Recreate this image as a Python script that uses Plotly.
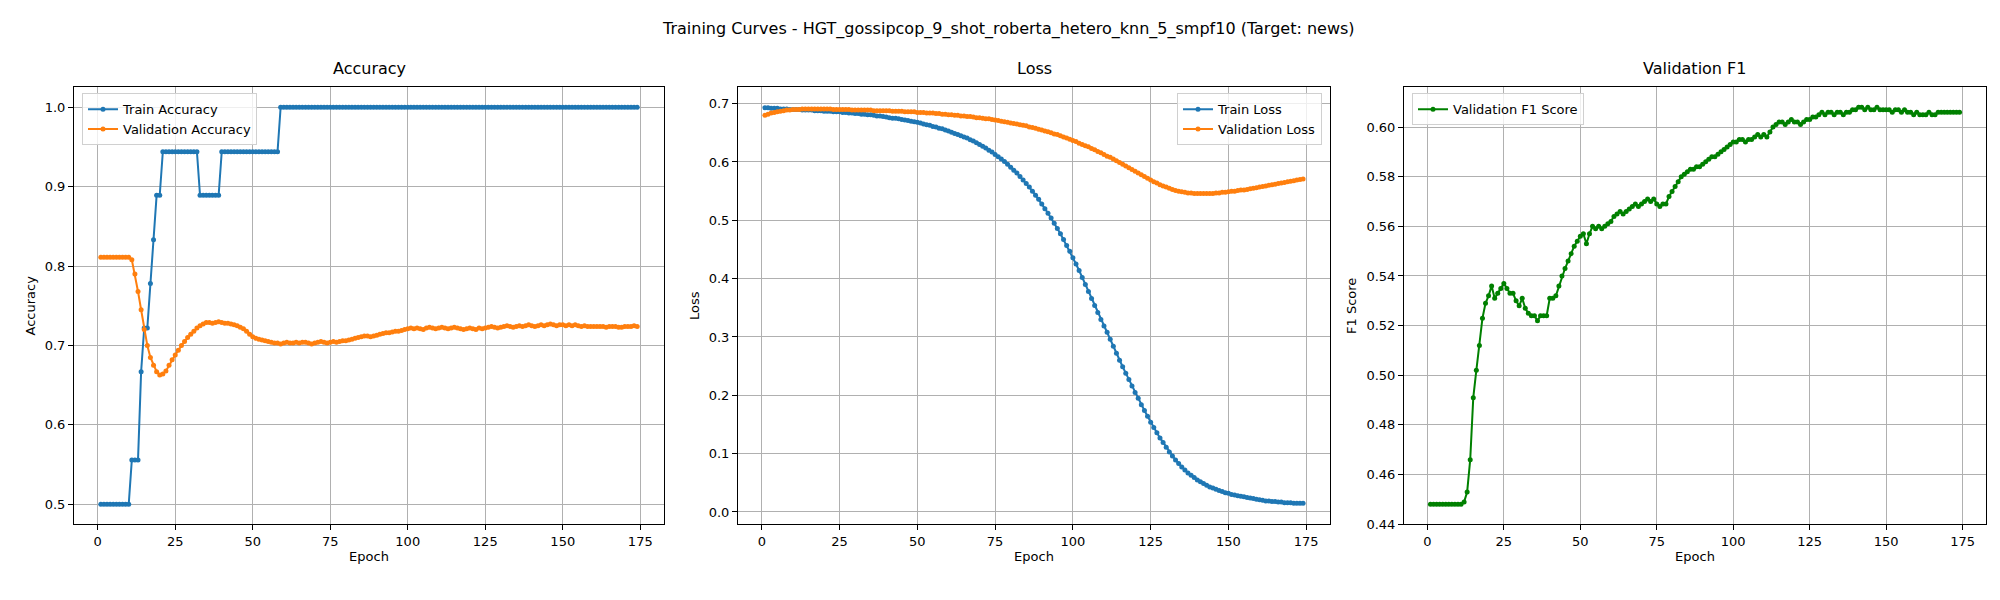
import plotly.graph_objects as go
from plotly.subplots import make_subplots

epochs = list(range(1, 175))

train_acc = ([0.5]*10 + [0.556]*3 + [0.667] + [0.722]*2 + [0.778] + [0.833] + [0.889]*2
             + [0.944]*12 + [0.889]*7 + [0.944]*19 + [1.0]*116)

val_acc = ([.811]*10 +
    [.808,.790,.768,.745,.720,.700,.685,.675,.667,.663,
     .664,.668,.675,.682,.688,.694,.700,.705,.710,.714,
     .718,.722,.725,.727,.729,.729,.728,.729,.730,.729,
     .728,.728,.727,.726,.725,.723,.721,.718,.714,.711,
     .709,.708,.707,.706,.705,.704,.703,.703,.702,.703,
     .704,.703,.703,.704,.703,.704,.704,.703,.702,.703,
     .704,.705,.704,.703,.704,.705,.704,.705,.706,.706,
     .707,.708,.709,.710,.711,.712,.712,.711,.712,.713,
     .714,.715,.716,.716,.717,.718,.718,.719,.720,.721,
     .722,.721,.722,.721,.720,.722,.723,.722,.721,.722,
     .723,.722,.721,.722,.723,.722,.721,.720,.721,.722,
     .721,.720,.722,.721,.722,.723,.724,.723,.722,.723,
     .724,.725,.724,.723,.724,.725,.724,.725,.726,.725,
     .724,.725,.726,.725,.726,.727,.726,.725,.726,.726,
     .725,.726,.725,.726,.725,.724,.725,.724,.724,.724,
     .724,.724,.724,.723,.724,.724,.724,.723,.723,.724,
     .724,.724,.725,.724])

train_loss = [
    .693,.693,.692,.692,.692,.691,.691,.691,.690,.690,
    .690,.690,.689,.689,.689,.689,.688,.688,.688,.687,
    .687,.687,.686,.686,.686,.685,.685,.684,.684,.683,
    .683,.682,.682,.681,.681,.680,.679,.679,.678,.677,
    .676,.675,.675,.674,.673,.672,.671,.670,.669,.668,
    .667,.665,.664,.663,.661,.660,.658,.657,.655,.653,
    .651,.649,.647,.645,.643,.641,.638,.636,.633,.630,
    .627,.624,.620,.617,.613,.609,.605,.601,.596,.591,
    .586,.581,.575,.569,.563,.557,.550,.543,.536,.528,
    .520,.512,.504,.495,.486,.477,.467,.457,.447,.436,
    .425,.414,.402,.390,.378,.366,.354,.342,.330,.319,
    .308,.296,.284,.272,.260,.249,.238,.227,.216,.205,
    .195,.184,.174,.164,.154,.145,.136,.127,.119,.111,
    .103,.096,.089,.083,.077,.072,.067,.063,.059,.055,
    .052,.049,.046,.043,.041,.039,.037,.035,.033,.032,
    .030,.029,.028,.027,.026,.025,.024,.023,.022,.021,
    .020,.019,.019,.018,.018,.017,.017,.016,.016,.016,
    .015,.015,.015,.015]

val_loss = [
    .680,.682,.684,.685,.686,.687,.688,.689,.689,.690,
    .690,.690,.691,.691,.691,.691,.691,.691,.691,.691,
    .691,.691,.690,.690,.690,.690,.690,.690,.689,.689,
    .689,.689,.689,.689,.689,.688,.688,.688,.688,.688,
    .688,.687,.687,.687,.687,.686,.686,.686,.686,.685,
    .685,.685,.684,.684,.684,.683,.683,.682,.682,.681,
    .681,.680,.680,.679,.679,.678,.678,.677,.676,.676,
    .675,.674,.674,.673,.672,.671,.670,.669,.668,.667,
    .666,.665,.664,.663,.662,.660,.659,.658,.656,.655,
    .653,.652,.650,.648,.647,.645,.643,.641,.639,.637,
    .635,.632,.630,.628,.626,.623,.621,.618,.616,.613,
    .610,.608,.605,.602,.599,.596,.593,.590,.587,.584,
    .581,.578,.575,.572,.569,.566,.564,.561,.559,.557,
    .555,.553,.551,.550,.549,.548,.547,.547,.546,.546,
    .546,.546,.546,.546,.546,.547,.547,.548,.548,.549,
    .550,.550,.551,.552,.552,.553,.554,.555,.556,.557,
    .558,.559,.560,.561,.562,.563,.564,.565,.566,.567,
    .568,.569,.570,.571]

val_f1 = ([.448]*11 +
    [.449,.453,.466,.491,.502,.512,.523,.529,.532,
     .536,.531,.533,.535,.537,.535,.533,.533,.530,.528,
     .531,.527,.525,.524,.524,.522,.524,.524,.524,.531,
     .531,.532,.536,.540,.543,.546,.549,.552,.554,.556,
     .557,.553,.557,.560,.559,.560,.559,.560,.561,.562,
     .564,.565,.566,.565,.566,.567,.568,.569,.568,.569,
     .570,.571,.570,.571,.569,.568,.569,.569,.572,.574,
     .576,.578,.580,.581,.582,.583,.583,.584,.584,.585,
     .586,.587,.588,.588,.589,.590,.591,.592,.593,.594,
     .594,.595,.595,.594,.595,.595,.596,.597,.596,.597,
     .596,.598,.600,.601,.602,.602,.601,.602,.603,.602,
     .602,.601,.602,.603,.603,.604,.604,.605,.606,.605,
     .606,.606,.605,.606,.606,.605,.606,.606,.607,.607,
     .608,.608,.607,.608,.607,.607,.608,.607,.607,.607,
     .607,.606,.607,.607,.606,.607,.606,.606,.605,.606,
     .605,.605,.605,.606,.605,.605,.606,.606,.606,.606,
     .606,.606,.606,.606])

BLUE, ORANGE, GREEN = "#1f77b4", "#ff7f0e", "green"
FONT = "DejaVu Sans"

fig = go.Figure()
def tr(y, name, color, xa, ya):
    fig.add_trace(go.Scatter(x=epochs, y=y, name=name, mode="lines+markers",
        line=dict(color=color, width=2), marker=dict(color=color, size=5),
        xaxis=xa, yaxis=ya, showlegend=False))

tr(train_acc, "Train Accuracy", BLUE, "x", "y")
tr(val_acc, "Validation Accuracy", ORANGE, "x", "y")
tr(train_loss, "Train Loss", BLUE, "x2", "y2")
tr(val_loss, "Validation Loss", ORANGE, "x2", "y2")
tr(val_f1, "Validation F1 Score", GREEN, "x3", "y3")

doms = [(0.033, 0.328), (0.365, 0.661), (0.698, 0.989)]
ydom = (0.128, 0.866)
yr = [(0.475, 1.025), (-0.021, 0.728), (0.440, 0.616)]
ydt = [0.1, 0.1, 0.02]
ylab = ["Accuracy", "Loss", "F1 Score"]
ttl = ["Accuracy", "Loss", "Validation F1"]
ax = dict(showline=True, linecolor="black", linewidth=1, mirror=True, ticks="outside",
          ticklen=5, tickcolor="black", showgrid=True, gridcolor="#b0b0b0", gridwidth=1,
          zeroline=False, tickfont=dict(size=13, color="black"))
anns = []
for i in range(3):
    s = "" if i == 0 else str(i+1)
    fig.layout["xaxis"+s] = dict(ax, domain=doms[i], range=[-7.65, 182.65], dtick=25, tick0=0,
        anchor="y"+s, title=dict(text="Epoch", font=dict(size=13, color="black"), standoff=4))
    fig.layout["yaxis"+s] = dict(ax, domain=ydom, range=yr[i], dtick=ydt[i],
        tickformat=".1f" if i < 2 else ".2f", anchor="x"+s,
        title=dict(text=ylab[i], font=dict(size=13, color="black"), standoff=6))
    anns.append(dict(text=ttl[i], x=(doms[i][0]+doms[i][1])/2, y=ydom[1]+0.012, xref="paper",
        yref="paper", xanchor="center", yanchor="bottom", showarrow=False,
        font=dict(size=16, color="black")))

# legends as annotations-like boxes using separate legends
def leg_entries(items, x, y, xanchor, legname):
    for name, color, xa, ya in items:
        fig.add_trace(go.Scatter(x=[None], y=[None], name=name, mode="lines+markers",
            line=dict(color=color, width=2), marker=dict(color=color, size=5),
            xaxis=xa, yaxis=ya, legend=legname))
    fig.layout[legname] = dict(x=x, y=y, xanchor=xanchor, yanchor="top", xref="paper", yref="paper",
        bgcolor="rgba(255,255,255,0.8)", bordercolor="#d0d0d0", borderwidth=1,
        font=dict(size=13, color="black", family=FONT), tracegroupgap=0)

leg_entries([("Train Accuracy", BLUE, "x", "y"), ("Validation Accuracy", ORANGE, "x", "y")],
            doms[0][0]+0.004, ydom[1]-0.01, "left", "legend")
leg_entries([("Train Loss", BLUE, "x2", "y2"), ("Validation Loss", ORANGE, "x2", "y2")],
            doms[1][1]-0.004, ydom[1]-0.01, "right", "legend2")
leg_entries([("Validation F1 Score", GREEN, "x3", "y3")],
            doms[2][0]+0.004, ydom[1]-0.01, "left", "legend3")

anns.append(dict(text="Training Curves - HGT_gossipcop_9_shot_roberta_hetero_knn_5_smpf10 (Target: news)",
    x=0.5, y=0.985, xref="paper", yref="paper", xanchor="center", yanchor="top", showarrow=False,
    font=dict(size=16, color="black")))
fig.update_layout(annotations=anns, width=2000, height=600, plot_bgcolor="white",
    paper_bgcolor="white", font=dict(family=FONT, color="black"),
    margin=dict(l=0, r=0, t=0, b=0))
fig.write_html("out.html")
